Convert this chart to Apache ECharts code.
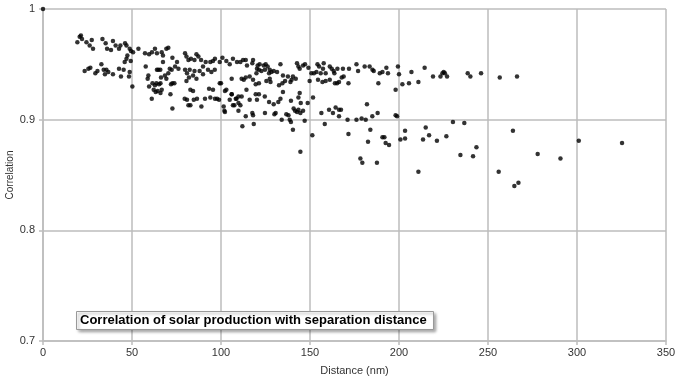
<!DOCTYPE html>
<html>
<head>
<meta charset="utf-8">
<script src="https://cdn.jsdelivr.net/npm/echarts@6/dist/echarts.min.js"></script>
<style>
  html, body { margin: 0; padding: 0; background: #fff; }
  #chart { width: 677px; height: 382px; }
</style>
</head>
<body>
<div id="chart"></div>
<script>
  // distance (nm) / correlation
  const distance = [
    0, 19.3, 20.6, 21.3, 21.9, 24.4, 26.2, 27.4, 28.1, 33.4, 35.2, 36.0, 38.2, 39.3, 40.8, 42.7, 43.5, 46.1, 46.9, 48.7,
    49.4, 50.6, 53.6, 47.4, 45.9, 49.3, 46.9, 23.4, 25.5, 26.6, 29.4, 30.6, 32.8, 34.1, 34.8, 35.6, 36.7, 39.3, 42.7, 43.8,
    45.3, 48.3, 48.7, 50.2, 57.3, 59.6, 61.2, 62.9, 64.0, 66.7, 67.4, 69.3, 70.4, 72.7, 57.7, 59.2, 58.8, 59.6, 61.5, 62.9,
    63.7, 65.2, 66.0, 61.1, 62.2, 63.3, 64.4, 64.0, 64.8, 65.9, 66.3, 67.4, 68.5, 69.3, 70.4, 71.2, 72.3, 71.9, 72.7, 73.8,
    66.0, 66.7, 71.6, 72.7, 74.2, 75.3, 76.1, 79.8, 80.6, 81.7, 83.1, 85.1, 86.2, 87.3, 88.8, 89.9, 91.4, 94.0, 95.5, 96.6,
    99.3, 100.8, 103.0, 104.9, 106.7, 109.0, 79.8, 80.9, 82.4, 85.1, 84.3, 86.2, 88.0, 89.9, 92.7, 94.6, 96.5, 80.6, 82.0, 82.8,
    84.3, 79.6, 80.9, 81.7, 82.8, 84.7, 86.5, 89.0, 91.0, 93.3, 95.5, 94.0, 96.6, 97.8, 98.9, 100.0, 101.5, 102.2, 103.0, 104.9,
    106.0, 106.7, 108.7, 109.8, 110.9, 112.4, 113.9, 114.6, 118.0, 117.6, 120.6, 121.3, 121.7, 124.0, 125.1, 126.2, 127.4, 128.3, 129.6, 131.5,
    133.4, 119.9, 120.2, 122.7, 124.7, 127.0, 134.8, 137.6, 142.7, 143.5, 144.2, 146.1, 147.2, 149.1, 150.8, 152.2, 153.6, 154.2, 155.1, 156.0,
    157.3, 157.7, 158.8, 161.1, 162.2, 163.3, 163.7, 165.4, 168.5, 171.9, 176.1, 177.0, 180.7, 183.5, 185.1, 185.8, 189.2, 190.7, 192.9, 193.8,
    199.4, 200.0, 207.0, 214.4, 219.1, 223.3, 224.4, 225.1, 225.8, 227.0, 238.6, 240.1, 246.1, 256.6, 266.3, 99.3, 106.0, 111.6, 112.8, 113.9,
    116.1, 118.0, 119.5, 121.3, 125.5, 127.4, 127.8, 132.6, 134.5, 136.0, 139.0, 139.7, 140.4, 142.0, 149.8, 154.5, 157.0, 158.8, 161.1, 164.0,
    165.2, 166.3, 167.8, 168.9, 171.6, 188.4, 201.9, 205.6, 210.9, 198.1, 102.2, 106.0, 108.3, 109.8, 111.6, 114.3, 116.1, 119.5, 121.3, 120.2,
    124.6, 127.0, 129.6, 132.2, 133.4, 134.8, 139.3, 143.5, 144.2, 144.8, 148.7, 151.7, 101.9, 107.5, 109.8, 110.9, 113.9, 117.6, 118.0, 124.7,
    130.0, 130.7, 134.1, 136.7, 137.9, 138.6, 139.3, 140.8, 141.6, 142.7, 143.5, 144.6, 146.1, 140.4, 112.0, 118.4, 147.0, 151.3, 144.6, 158.3,
    156.4, 160.7, 162.9, 164.4, 166.3, 167.4, 166.3, 171.1, 176.1, 179.0, 181.3, 182.0, 185.0, 188.0, 198.1, 198.9, 171.6, 183.9, 182.6, 190.7,
    191.8, 192.5, 194.4, 178.3, 179.4, 187.6, 200.8, 203.4, 203.4, 213.5, 215.0, 216.9, 221.3, 226.6, 230.3, 236.7, 243.5, 234.5, 241.6, 264.0,
    256.0, 264.8, 267.1, 277.9, 290.7, 301.0, 325.3, 210.9
  ]
  const correlation = [
    1.0, 0.970, 0.975, 0.976, 0.973, 0.970, 0.967, 0.972, 0.964, 0.973, 0.969, 0.964, 0.963, 0.971, 0.967, 0.964, 0.967, 0.969, 0.967, 0.964,
    0.962, 0.961, 0.964, 0.958, 0.952, 0.953, 0.955, 0.944, 0.946, 0.947, 0.942, 0.944, 0.950, 0.945, 0.941, 0.945, 0.943, 0.941, 0.946, 0.939,
    0.945, 0.939, 0.943, 0.930, 0.960, 0.959, 0.961, 0.964, 0.960, 0.961, 0.958, 0.964, 0.965, 0.956, 0.948, 0.940, 0.937, 0.930, 0.933, 0.931,
    0.933, 0.932, 0.933, 0.919, 0.927, 0.925, 0.926, 0.945, 0.945, 0.945, 0.938, 0.952, 0.940, 0.937, 0.942, 0.946, 0.945, 0.932, 0.933, 0.933,
    0.924, 0.927, 0.923, 0.910, 0.948, 0.952, 0.946, 0.960, 0.957, 0.954, 0.955, 0.954, 0.959, 0.957, 0.954, 0.948, 0.952, 0.952, 0.953, 0.955,
    0.952, 0.956, 0.953, 0.950, 0.955, 0.952, 0.945, 0.942, 0.945, 0.944, 0.940, 0.937, 0.944, 0.941, 0.945, 0.943, 0.945, 0.935, 0.938, 0.927,
    0.926, 0.919, 0.918, 0.913, 0.913, 0.918, 0.919, 0.912, 0.919, 0.928, 0.927, 0.920, 0.919, 0.919, 0.918, 0.933, 0.912, 0.907, 0.927, 0.918,
    0.923, 0.913, 0.919, 0.915, 0.952, 0.954, 0.954, 0.949, 0.954, 0.951, 0.949, 0.945, 0.950, 0.949, 0.950, 0.948, 0.945, 0.943, 0.944, 0.943,
    0.950, 0.942, 0.946, 0.944, 0.945, 0.942, 0.940, 0.939, 0.951, 0.948, 0.946, 0.949, 0.950, 0.947, 0.942, 0.942, 0.943, 0.950, 0.948, 0.942,
    0.946, 0.951, 0.942, 0.948, 0.946, 0.944, 0.942, 0.946, 0.946, 0.946, 0.950, 0.944, 0.948, 0.948, 0.945, 0.944, 0.942, 0.943, 0.947, 0.942,
    0.948, 0.941, 0.943, 0.947, 0.939, 0.939, 0.942, 0.943, 0.942, 0.939, 0.942, 0.939, 0.942, 0.938, 0.939, 0.933, 0.937, 0.937, 0.936, 0.938,
    0.939, 0.936, 0.932, 0.933, 0.935, 0.937, 0.934, 0.931, 0.933, 0.935, 0.934, 0.936, 0.939, 0.937, 0.935, 0.936, 0.934, 0.935, 0.936, 0.933,
    0.933, 0.934, 0.938, 0.939, 0.933, 0.933, 0.932, 0.933, 0.934, 0.927, 0.926, 0.923, 0.919, 0.921, 0.921, 0.927, 0.918, 0.923, 0.923, 0.918,
    0.921, 0.916, 0.914, 0.916, 0.919, 0.925, 0.917, 0.920, 0.924, 0.915, 0.915, 0.920, 0.908, 0.913, 0.908, 0.913, 0.903, 0.906, 0.904, 0.906,
    0.905, 0.906, 0.900, 0.905, 0.904, 0.900, 0.898, 0.910, 0.908, 0.907, 0.909, 0.906, 0.908, 0.891, 0.894, 0.896, 0.899, 0.886, 0.871, 0.896,
    0.906, 0.909, 0.906, 0.911, 0.909, 0.909, 0.903, 0.900, 0.900, 0.901, 0.900, 0.914, 0.903, 0.906, 0.904, 0.903, 0.887, 0.891, 0.880, 0.884,
    0.884, 0.879, 0.877, 0.865, 0.861, 0.861, 0.882, 0.883, 0.890, 0.882, 0.893, 0.886, 0.881, 0.885, 0.898, 0.897, 0.875, 0.868, 0.867, 0.890,
    0.853, 0.840, 0.843, 0.869, 0.865, 0.881, 0.879, 0.853
  ]
  const titleText = 'Correlation of solar production with separation distance'

  const points = distance.map((d, i) => [d, correlation[i]])

  const myChart = echarts.init(document.getElementById('chart'))
  const gridColor = '#bdbdbd'
  const labelStyle = { color: '#333', fontFamily: 'Liberation Sans, Arial, sans-serif', fontSize: 11 }

  myChart.setOption({
    animation: false,
    title: {
      text: titleText,
      left: 76,
      top: 311,
      padding: [3, 7, 3, 4],
      backgroundColor: '#fff',
      borderColor: '#999',
      borderWidth: 1,
      shadowColor: 'rgba(0,0,0,0.35)',
      shadowBlur: 3,
      shadowOffsetX: 2,
      shadowOffsetY: 2,
      textStyle: { fontFamily: 'Liberation Sans, Arial, sans-serif', fontSize: 13, fontWeight: 'bold', color: '#000' }
    },
    grid: { left: 43, right: 11, top: 9, bottom: 41, outerBoundsMode: 'none' },
    xAxis: {
      type: 'value',
      min: 0,
      max: 350,
      interval: 50,
      name: 'Distance (nm)',
      nameLocation: 'middle',
      nameGap: 24,
      nameTextStyle: labelStyle,
      axisLine: { show: true, lineStyle: { color: gridColor, width: 1.5 } },
      axisTick: { show: true, length: 4, lineStyle: { color: gridColor, width: 1.5 } },
      axisLabel: Object.assign({ margin: 6 }, labelStyle),
      splitLine: { show: true, lineStyle: { color: gridColor, width: 1.5 } }
    },
    yAxis: {
      type: 'value',
      min: 0.7,
      max: 1,
      interval: 0.1,
      name: 'Correlation',
      nameLocation: 'middle',
      nameGap: 28,
      nameRotate: 90,
      nameMoveOverlap: false,
      nameTextStyle: Object.assign({}, labelStyle, { fontSize: 10 }),
      axisLine: { show: true, lineStyle: { color: gridColor, width: 1.5 } },
      axisTick: { show: true, length: 4, lineStyle: { color: gridColor, width: 1.5 } },
      axisLabel: Object.assign({
        margin: 8,
        formatter: function (v) { return String(Math.round(v * 10) / 10) }
      }, labelStyle),
      splitLine: { show: true, lineStyle: { color: gridColor, width: 1.5 } }
    },
    series: [{
      type: 'scatter',
      clip: false,
      symbol: 'circle',
      symbolSize: 4.5,
      itemStyle: { color: '#000' },
      data: points
    }]
  })
</script>
</body>
</html>
